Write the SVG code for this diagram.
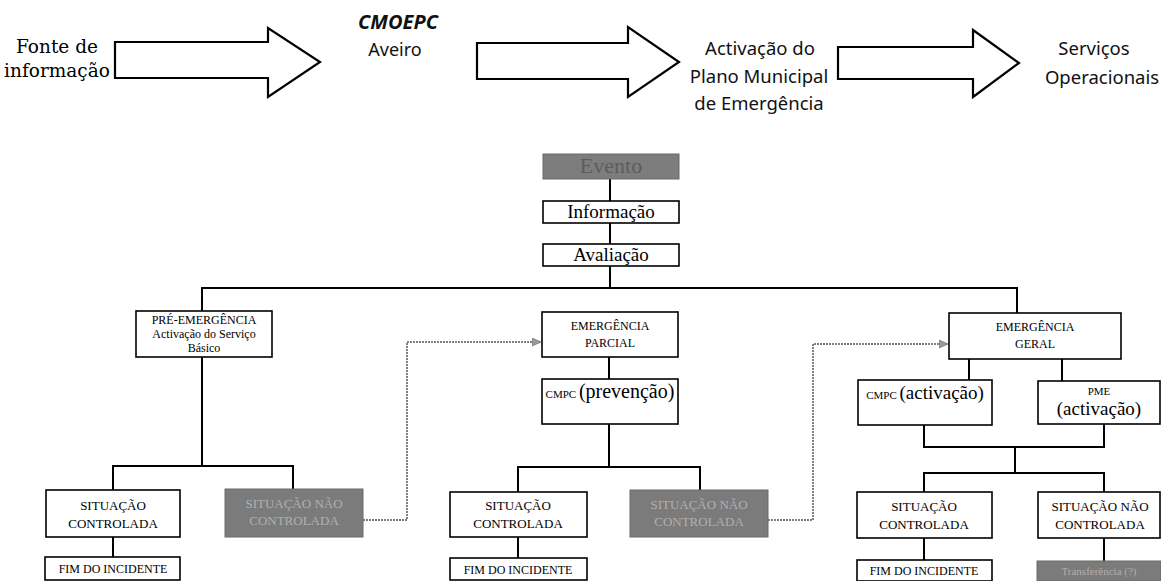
<svg xmlns="http://www.w3.org/2000/svg" width="1161" height="581" viewBox="0 0 1161 581">
<defs>
<marker id="ah" markerWidth="9" markerHeight="9" refX="8" refY="4.5" orient="auto" markerUnits="userSpaceOnUse">
<path d="M0,0.5 L9,4.5 L0,8.5 z" fill="#9a9a9a" stroke="#777" stroke-width="0.8"/>
</marker>
<style>
.big{fill:#fff;stroke:#000;stroke-width:2.2;stroke-linejoin:miter}
.box{fill:#fff;stroke:#000;stroke-width:1.6}
.gbox{fill:#7b7b7b;stroke:#6a6a6a;stroke-width:1}
.ln{fill:none;stroke:#000;stroke-width:2}
.dot{fill:none;stroke:#555;stroke-width:1.5;stroke-dasharray:2 1}
.cm{font-family:"Comic Sans MS","Noto Sans",sans-serif;fill:#111;text-anchor:middle}
.sr{font-family:"Liberation Serif","DejaVu Serif",serif;fill:#000;text-anchor:middle}
.dj{font-family:"DejaVu Serif","Liberation Serif",serif;fill:#000;text-anchor:middle;font-size:18.5px}
.s11{font-size:11px}
.s12{font-size:12px}
.s13{font-size:13px}
.s19{font-size:19px}
.gt{fill:#b0b0b0}
</style>
</defs>
<rect width="1161" height="581" fill="#fff"/>

<g id="top-flow">
<g id="fonte">
<text class="dj" x="57" y="53">Fonte de</text>
<text class="dj" x="57" y="77">informação</text>
</g>
<path id="arrow1" class="big" d="M115,42 L268,42 L268,28 L320,62 L268,97 L268,78 L115,78 Z"/>
<g id="cmoepc">
<text class="cm" x="398" y="29" font-size="20" font-weight="bold" font-style="italic">CMOEPC</text>
<text class="cm" x="395" y="56" font-size="18">Aveiro</text>
</g>
<path id="arrow2" class="big" d="M477,43 L628,43 L628,27 L679,62 L628,97 L628,79 L477,79 Z"/>
<g id="activacao">
<text class="cm" x="760" y="55" font-size="18.5">Activação do</text>
<text class="cm" x="759" y="83" font-size="18.5">Plano Municipal</text>
<text class="cm" x="759" y="110" font-size="18.5">de Emergência</text>
</g>
<path id="arrow3" class="big" d="M838,47 L973,47 L973,30 L1019,63 L973,97 L973,79 L838,79 Z"/>
<g id="servicos">
<text class="cm" x="1094" y="55" font-size="18.5">Serviços</text>
<text class="cm" x="1102" y="84" font-size="18.5">Operacionais</text>
</g>
</g>

<g id="connectors">
<path class="ln" d="M610,179 V201 M610,223 V244 M610,266 V288"/>
<path class="ln" d="M202,311 V288 H1017 V313"/>
<path class="ln" d="M202,357 V466 M113,490 V466 H293 V489 M113,537 V557"/>
<path class="ln" d="M609,357 V379 M609,424 V467 M518,492 V467 H700 V490 M518,537 V558"/>
<path class="ln" d="M969,359 V380 M1062,359 V381 M924,425 V447 H1104 V424 M1015,447 V473 M924,492 V473 H1104 V492 M924,538 V560 M1104,538 V561"/>
<path class="dot" d="M363,520 H407 V342 H540" marker-end="url(#ah)"/>
<path class="dot" d="M768,520 H813 V344 H947" marker-end="url(#ah)"/>
</g>

<g id="evento">
<rect x="543" y="154" width="136" height="25" fill="#7d7d7d" stroke="#6a6a6a"/>
<text class="sr" x="611" y="173" font-size="22" style="fill:#5c5c5c">Evento</text>
</g>
<g id="informacao">
<rect class="box" x="543" y="201" width="136" height="22"/>
<text class="sr s19" x="611" y="218">Informação</text>
</g>
<g id="avaliacao">
<rect class="box" x="543" y="244" width="136" height="22"/>
<text class="sr s19" x="611" y="261">Avaliação</text>
</g>

<g id="pre-emergencia">
<rect class="box" x="136" y="311" width="136" height="46"/>
<text class="sr s12" x="204" y="324">PRÉ-EMERGÊNCIA</text>
<text class="sr s12" x="204" y="338">Activação do Serviço</text>
<text class="sr s12" x="204" y="352">Básico</text>
</g>
<g id="sit-controlada-1">
<rect class="box" x="46" y="490" width="134" height="47"/>
<text class="sr s13" x="113" y="510">SITUAÇÃO</text>
<text class="sr s13" x="113" y="528">CONTROLADA</text>
</g>
<g id="sit-nao-controlada-1">
<rect class="gbox" x="225" y="489" width="138" height="48"/>
<text class="sr s13 gt" x="294" y="508">SITUAÇÃO NÃO</text>
<text class="sr s13 gt" x="294" y="525">CONTROLADA</text>
</g>
<g id="fim-1">
<rect class="box" x="45" y="557" width="135" height="23"/>
<text class="sr s12" x="113" y="573">FIM DO INCIDENTE</text>
</g>

<g id="emergencia-parcial">
<rect class="box" x="542" y="312" width="136" height="45"/>
<text class="sr s12" x="610" y="330">EMERGÊNCIA</text>
<text class="sr s12" x="610" y="347">PARCIAL</text>
</g>
<g id="cmpc-prevencao">
<rect class="box" x="542" y="379" width="136" height="45"/>
<text class="sr" x="610" y="398"><tspan font-size="11">CMPC </tspan><tspan font-size="20">(prevenção)</tspan></text>
</g>
<g id="sit-controlada-2">
<rect class="box" x="450" y="492" width="137" height="45"/>
<text class="sr s13" x="518" y="510">SITUAÇÃO</text>
<text class="sr s13" x="518" y="528">CONTROLADA</text>
</g>
<g id="sit-nao-controlada-2">
<rect class="gbox" x="630" y="490" width="138" height="47"/>
<text class="sr s13 gt" x="699" y="509">SITUAÇÃO NÃO</text>
<text class="sr s13 gt" x="699" y="526">CONTROLADA</text>
</g>
<g id="fim-2">
<rect class="box" x="450" y="558" width="137" height="22"/>
<text class="sr s12" x="518" y="574">FIM DO INCIDENTE</text>
</g>

<g id="emergencia-geral">
<rect class="box" x="949" y="313" width="172" height="46"/>
<text class="sr s12" x="1035" y="331">EMERGÊNCIA</text>
<text class="sr s12" x="1035" y="348">GERAL</text>
</g>
<g id="cmpc-activacao">
<rect class="box" x="858" y="380" width="134" height="45"/>
<text class="sr" x="925" y="399"><tspan font-size="11">CMPC </tspan><tspan font-size="19">(activação)</tspan></text>
</g>
<g id="pme-activacao">
<rect class="box" x="1038" y="381" width="122" height="43"/>
<text class="sr s11" x="1099" y="395">PME</text>
<text class="sr s19" x="1099" y="415">(activação)</text>
</g>
<g id="sit-controlada-3">
<rect class="box" x="857" y="492" width="135" height="46"/>
<text class="sr s13" x="924" y="511">SITUAÇÃO</text>
<text class="sr s13" x="924" y="529">CONTROLADA</text>
</g>
<g id="sit-nao-controlada-3">
<rect class="box" x="1038" y="492" width="122" height="46"/>
<text class="sr s13" x="1100" y="511">SITUAÇÃO NÃO</text>
<text class="sr s13" x="1100" y="529">CONTROLADA</text>
</g>
<g id="fim-3">
<rect class="box" x="857" y="560" width="135" height="21"/>
<text class="sr s12" x="924" y="575">FIM DO INCIDENTE</text>
</g>
<g id="transferencia">
<rect class="gbox" x="1037" y="561" width="124" height="20"/>
<text class="sr s11 gt" x="1099" y="575">Transferência (?)</text>
</g>
</svg>
